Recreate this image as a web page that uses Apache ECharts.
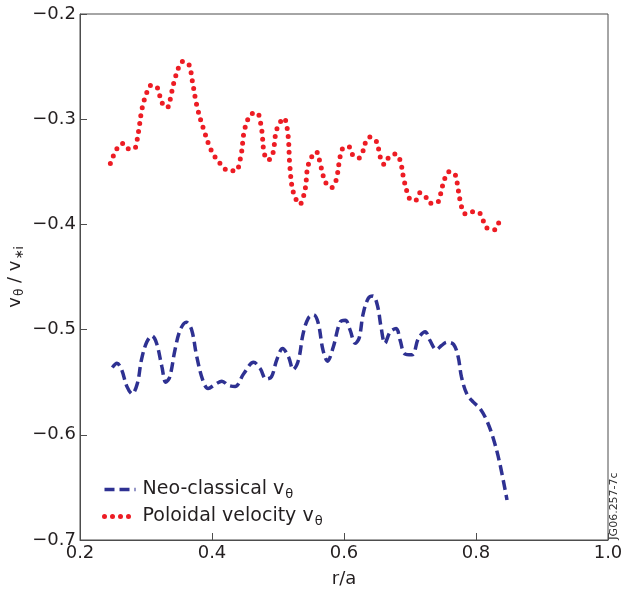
<!DOCTYPE html>
<html>
<head>
<meta charset="utf-8">
<script src="https://cdn.jsdelivr.net/npm/echarts@6/dist/echarts.min.js"></script>
<style>
  html, body { margin: 0; padding: 0; background: #fff; }
  #chart { width: 623px; height: 597px; }
</style>
</head>
<body>
<div id="chart"></div>
<script>
// Neo-classical v_theta (dashed, navy)
const rNeo = [0.249, 0.256, 0.263, 0.271, 0.279, 0.287, 0.293, 0.301, 0.309, 0.316, 0.324, 0.330, 0.336, 0.344,
  0.352, 0.361, 0.369, 0.377, 0.386, 0.394, 0.405, 0.415, 0.425, 0.435, 0.448, 0.463, 0.473, 0.482, 0.490, 0.498,
  0.507, 0.516, 0.523, 0.531, 0.538, 0.546, 0.554, 0.561, 0.568, 0.575, 0.584, 0.594, 0.602, 0.609, 0.617, 0.623,
  0.629, 0.637, 0.644, 0.651, 0.656, 0.662, 0.670, 0.679, 0.685, 0.692, 0.703, 0.713, 0.723, 0.730, 0.740, 0.748,
  0.756, 0.766, 0.773, 0.778, 0.786, 0.796, 0.806, 0.816, 0.826, 0.836, 0.847];
const vNeo = [-0.536, -0.532, -0.538, -0.554, -0.561, -0.551, -0.529, -0.512, -0.506, -0.513, -0.535, -0.550, -0.545, -0.519,
  -0.500, -0.493, -0.500, -0.526, -0.548, -0.556, -0.552, -0.549, -0.553, -0.554, -0.542, -0.531, -0.537, -0.547, -0.545, -0.529,
  -0.518, -0.526, -0.538, -0.529, -0.504, -0.489, -0.486, -0.494, -0.519, -0.530, -0.516, -0.493, -0.491, -0.500, -0.513, -0.508,
  -0.485, -0.470, -0.468, -0.478, -0.497, -0.513, -0.502, -0.499, -0.510, -0.523, -0.524, -0.508, -0.502, -0.510, -0.519, -0.515,
  -0.512, -0.514, -0.526, -0.545, -0.561, -0.569, -0.575, -0.586, -0.603, -0.627, -0.662];

// Poloidal velocity v_theta (dotted, red)
const rPol = [0.246, 0.256, 0.265, 0.273, 0.282, 0.288, 0.294, 0.301, 0.307, 0.316, 0.324, 0.332, 0.339, 0.345,
  0.356, 0.365, 0.370, 0.377, 0.387, 0.400, 0.415, 0.425, 0.436, 0.444, 0.449, 0.458, 0.468, 0.475, 0.479, 0.485,
  0.492, 0.498, 0.509, 0.515, 0.518, 0.523, 0.533, 0.541, 0.546, 0.558, 0.565, 0.572, 0.581, 0.588, 0.594, 0.598,
  0.607, 0.612, 0.622, 0.629, 0.632, 0.639, 0.649, 0.655, 0.661, 0.667, 0.678, 0.685, 0.690, 0.696, 0.702, 0.709,
  0.715, 0.724, 0.731, 0.742, 0.749, 0.759, 0.768, 0.773, 0.778, 0.784, 0.794, 0.805, 0.816, 0.828, 0.834, 0.839];
const vPol = [-0.342, -0.328, -0.323, -0.328, -0.328, -0.314, -0.290, -0.275, -0.268, -0.269, -0.284, -0.289, -0.274, -0.259,
  -0.245, -0.248, -0.263, -0.287, -0.309, -0.331, -0.344, -0.349, -0.349, -0.334, -0.311, -0.296, -0.294, -0.309, -0.332, -0.339,
  -0.333, -0.310, -0.299, -0.314, -0.345, -0.369, -0.381, -0.367, -0.343, -0.331, -0.345, -0.360, -0.365, -0.358, -0.336, -0.328,
  -0.326, -0.333, -0.337, -0.330, -0.323, -0.317, -0.321, -0.336, -0.343, -0.337, -0.333, -0.339, -0.355, -0.370, -0.377, -0.377,
  -0.370, -0.374, -0.380, -0.379, -0.364, -0.350, -0.352, -0.367, -0.383, -0.390, -0.388, -0.389, -0.403, -0.405, -0.399, -0.392];

const xTicks = [0.2, 0.4, 0.6, 0.8, 1.0];
const yTicks = [-0.7, -0.6, -0.5, -0.4, -0.3, -0.2];

const textColor = "#231f20";
const lineColor = "#4d4d4d";
const font = "'DejaVu Sans', sans-serif";

const neoLine = { color: "#2e3192", width: 3.5, type: [10, 5] };
const polLine = { color: "#ed1c24", width: 5, type: [0, 8], cap: "round" };

const chart = echarts.init(document.getElementById("chart"));

const option = {
  animation: false,
  backgroundColor: "#fff",
  textStyle: { fontFamily: font },
  grid: {
    left: 80,
    right: 15,
    top: 14,
    bottom: 57,
    outerBoundsMode: "none",
    containLabel: false,
    show: true,
    borderColor: lineColor,
    borderWidth: 1,
  },
  legend: {
    orient: "vertical",
    left: 97,
    top: 475,
    itemWidth: 31,
    itemHeight: 14,
    itemGap: 6,
    itemStyle: { opacity: 0 },
    data: [
      { name: "Neo-classical v", lineStyle: neoLine },
      { name: "Poloidal velocity v", lineStyle: polLine },
    ],
    formatter: (name) => name + "{sub|θ}",
    textStyle: {
      fontSize: 19,
      color: textColor,
      fontFamily: font,
      padding: [0, 0, 0, 2],
      rich: {
        sub: { fontSize: 13, fontFamily: font, color: textColor, padding: [10, 0, 0, 1] },
      },
    },
  },
  xAxis: {
    type: "value",
    min: xTicks[0],
    max: xTicks[xTicks.length - 1],
    interval: 0.2,
    name: "r/a",
    nameLocation: "middle",
    nameGap: 30,
    nameMoveOverlap: false,
    nameTextStyle: { fontSize: 18, color: textColor, fontFamily: font },
    axisLine: { lineStyle: { color: lineColor, width: 1 } },
    axisTick: { inside: true, length: 7, lineStyle: { color: lineColor } },
    axisLabel: {
      fontSize: 18,
      color: textColor,
      margin: 4,
      formatter: (v) => v.toFixed(1),
    },
    splitLine: { show: false },
  },
  yAxis: {
    type: "value",
    min: yTicks[0],
    max: yTicks[yTicks.length - 1],
    interval: 0.1,
    name: "v{s|θ} / v{s|∗i}",
    nameLocation: "middle",
    nameGap: 54,
    nameMoveOverlap: false,
    nameRotate: 90,
    nameTextStyle: {
      fontSize: 18,
      color: textColor,
      fontFamily: font,
      rich: {
        s: { fontSize: 12, fontFamily: font, color: textColor, padding: [10, 0, 0, 1] },
      },
    },
    axisLine: { lineStyle: { color: lineColor, width: 1 } },
    axisTick: { inside: true, length: 7, lineStyle: { color: lineColor } },
    axisLabel: {
      fontSize: 18,
      color: textColor,
      margin: 4,
      formatter: (v) => v.toFixed(1).replace("-", "\u2212"),
    },
    splitLine: { show: false },
  },
  series: [
    {
      name: "Neo-classical v",
      type: "line",
      data: rNeo.map((r, i) => [r, vNeo[i]]),
      smooth: 0.35,
      symbol: "none",
      itemStyle: { color: "#2e3192" },
      lineStyle: neoLine,
    },
    {
      name: "Poloidal velocity v",
      type: "line",
      data: rPol.map((r, i) => [r, vPol[i]]),
      smooth: 0.35,
      symbol: "none",
      itemStyle: { color: "#ed1c24" },
      lineStyle: polLine,
    },
  ],
  graphic: [
    {
      type: "text",
      x: 614,
      y: 506,
      rotation: Math.PI / 2,
      style: {
        text: "JG06.257-7c",
        fontSize: 11,
        fontFamily: font,
        fill: "#333",
        align: "center",
        verticalAlign: "middle",
      },
    },
  ],
};

chart.setOption(option);
</script>
</body>
</html>
